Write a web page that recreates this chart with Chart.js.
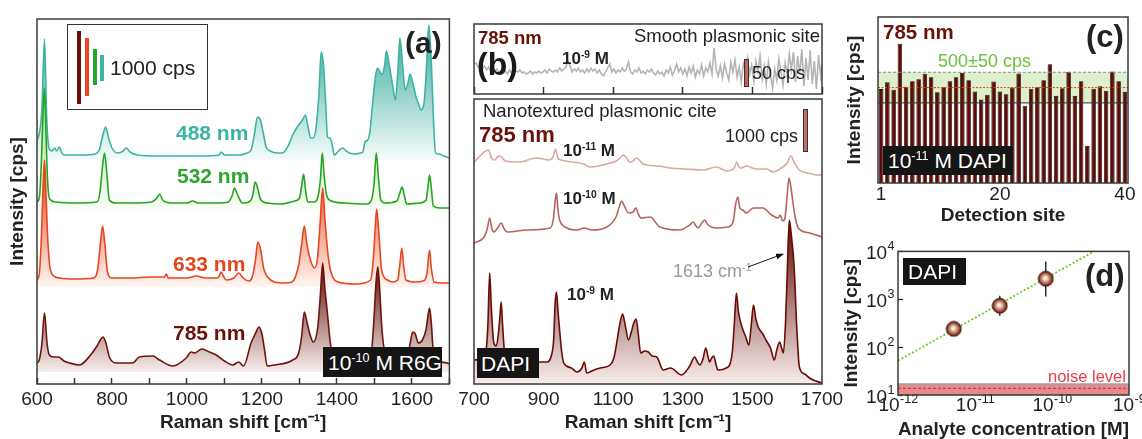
<!DOCTYPE html>
<html><head><meta charset="utf-8">
<script src="https://cdn.jsdelivr.net/npm/chart.js@4.4.1/dist/chart.umd.min.js"></script>
<style>
html,body{margin:0;padding:0;background:#fff;width:1142px;height:439px;overflow:hidden;position:relative;font-family:'Liberation Sans',Arial,Helvetica,sans-serif;color:#222;}
canvas{position:absolute;}
.t{position:absolute;white-space:nowrap;line-height:1;}
.b{font-weight:bold;}
.box{position:absolute;background:#151515;color:#fff;white-space:nowrap;box-sizing:border-box;}
.bar{position:absolute;box-sizing:border-box;}
sup{font-size:0.6em;vertical-align:0;position:relative;top:-0.6em;}
</style></head><body>
<canvas id="cA" width="460" height="439" style="left:0;top:0"></canvas>
<canvas id="cB1" width="385" height="100" style="left:450px;top:0"></canvas>
<canvas id="cB2" width="400" height="344" style="left:450px;top:95px"></canvas>
<canvas id="cC" width="312" height="230" style="left:830px;top:0"></canvas>
<canvas id="cD" width="312" height="220" style="left:830px;top:230px"></canvas>

<!-- panel (a) annotations -->
<div style="position:absolute;left:67px;top:24px;width:141px;height:86px;border:1.5px solid #333;box-sizing:border-box;"></div>
<div class="bar" style="left:77px;top:31px;width:4px;height:73px;background:#6b1005"></div>
<div class="bar" style="left:85px;top:38px;width:4px;height:58px;background:#e8461e"></div>
<div class="bar" style="left:93px;top:49px;width:4px;height:36px;background:#28a828"></div>
<div class="bar" style="left:100px;top:55px;width:4px;height:26px;background:#3ab5a3"></div>
<div class="t" style="left:110px;top:57px;font-size:21px">1000 cps</div>
<div class="t b" style="left:405px;top:28px;font-size:30px;color:#222">(a)</div>
<div class="t b" style="left:176px;top:122px;font-size:21px;color:#3ab4a4">488 nm</div>
<div class="t b" style="left:177px;top:165px;font-size:21px;color:#2ca52a">532 nm</div>
<div class="t b" style="left:173px;top:253px;font-size:21px;color:#e4461c">633 nm</div>
<div class="t b" style="left:173px;top:322px;font-size:21px;color:#6b1208">785 nm</div>
<div class="box" style="left:323px;top:347px;width:119px;height:30px;font-size:21px;line-height:31px;padding-left:5px">10<sup>-10</sup> M R6G</div>

<!-- panel (b) annotations -->
<div class="t b" style="left:478px;top:29px;font-size:18.5px;color:#6b1208">785 nm</div>
<div class="t" style="right:322px;top:27px;font-size:18.5px">Smooth plasmonic site</div>
<div class="t b" style="left:477px;top:48px;font-size:32px;color:#1a1a1a">(b)</div>
<div class="t b" style="left:562px;top:50px;font-size:17px">10<sup>-9</sup> M</div>
<div class="bar" style="left:744px;top:59px;width:5px;height:28px;background:#c0645a;border:1px solid #333"></div>
<div class="t" style="left:752px;top:64px;font-size:18px">50 cps</div>
<div class="t" style="left:483px;top:102px;font-size:18.5px">Nanotextured plasmonic cite</div>
<div class="t b" style="left:479px;top:124px;font-size:22px;color:#6b1208">785 nm</div>
<div class="bar" style="left:803px;top:109px;width:5px;height:43px;background:#c0706a;border:1px solid #333"></div>
<div class="t" style="right:344px;top:127px;font-size:18px">1000 cps</div>
<div class="t b" style="left:563px;top:142px;font-size:17px">10<sup>-11</sup> M</div>
<div class="t b" style="left:563px;top:190px;font-size:17px">10<sup>-10</sup> M</div>
<div class="t b" style="left:567px;top:286px;font-size:17px">10<sup>-9</sup> M</div>
<div class="box" style="left:477px;top:348px;width:62px;height:30px;font-size:21px;line-height:31px;padding-left:4px">DAPI</div>
<div class="t" style="left:673px;top:262px;font-size:18px;color:#999">1613 cm<sup>-1</sup></div>
<svg style="position:absolute;left:0;top:0" width="1142" height="439">
<defs><marker id="ah" markerWidth="8" markerHeight="6" refX="7" refY="3" orient="auto"><path d="M0,0 L8,3 L0,6 z" fill="#111"/></marker></defs>
<line x1="748" y1="267" x2="783" y2="254" stroke="#111" stroke-width="1" marker-end="url(#ah)"/>
</svg>

<!-- panel (c) annotations -->
<div class="t b" style="left:883px;top:22px;font-size:20.5px;color:#6b1208">785 nm</div>
<div class="t b" style="left:1086px;top:21px;font-size:31px;color:#222">(c)</div>
<div class="t" style="left:938px;top:52px;font-size:18px;color:#6dc03c">500±50 cps</div>
<div class="box" style="left:883px;top:146px;width:130px;height:29px;font-size:21px;line-height:30px;padding-left:5px">10<sup>-11</sup> M DAPI</div>

<!-- panel (d) annotations -->
<div class="box" style="left:903px;top:258px;width:63px;height:27px;font-size:21px;line-height:28px;padding-left:5px">DAPI</div>
<div class="t b" style="left:1085px;top:260px;font-size:31px;color:#222">(d)</div>
<div class="t" style="left:1048px;top:368px;font-size:16.5px;color:#e53c48">noise level</div>

<script>
// ---------------- DATA ----------------
// (a) R6G 1e-10 M spectra, offset intensities (stacked)
const shift488 = [600,607,613,620,626,632,640,647,652,660,665,672,690,720,755,767,775,783,791,800,815,830,838,848,870,920,980,1040,1085,1092,1100,1140,1160,1171,1180,1188,1196,1204,1211,1222,1240,1255,1270,1282,1296,1308,1316,1324,1330,1336,1344,1352,1358,1364,1370,1375,1381,1387,1393,1404,1415,1425,1433,1450,1462,1469,1475,1482,1488,1495,1502,1508,1515,1521,1527,1532,1540,1548,1556,1562,1568,1575,1582,1589,1595,1603,1611,1618,1624,1632,1638,1645,1652,1658,1663,1672,1685,1700];
const int488 = [244,252,275,345,265,236,233,236,233,237,232,229,229,229,230,235,248,257,246,236,231,233,236,232,229,228,228,228,229,232,229,229,231,234,250,267,264,250,237,233,231,231,238,249,258,264,269,255,246,246,255,290,332,320,280,247,246,240,229,233,236,233,231,230,231,232,242,244,252,280,305,316,312,310,318,333,318,300,284,310,346,320,294,300,310,300,287,280,274,280,310,359,320,260,231,230,228,226];
const shift532 = [600,606,611,616,620,624,628,634,650,700,760,768,774,780,786,793,810,850,905,920,927,935,960,1000,1015,1030,1080,1110,1120,1127,1134,1148,1165,1175,1182,1189,1197,1215,1250,1287,1300,1306,1311,1316,1322,1340,1350,1356,1361,1366,1372,1380,1420,1480,1492,1499,1505,1511,1517,1528,1560,1567,1574,1580,1586,1620,1638,1643,1647,1652,1657,1675,1700];
const int532 = [182,186,215,270,296,250,205,185,182,181,182,192,215,231,212,184,181,181,182,186,190,184,181,181,183,181,181,182,188,196,190,181,182,188,202,195,184,181,180,183,186,198,210,195,182,182,188,205,231,208,190,184,181,180,184,200,231,205,184,181,183,190,197,188,180,181,184,198,209,195,178,176,176];
const shift633 = [600,606,611,616,620,624,628,634,645,660,700,750,762,769,775,781,788,800,850,900,940,945,950,1000,1025,1050,1080,1086,1091,1097,1105,1125,1138,1150,1165,1175,1183,1189,1196,1205,1215,1233,1260,1280,1298,1306,1313,1320,1327,1340,1348,1355,1362,1368,1376,1384,1403,1450,1490,1497,1502,1506,1512,1518,1524,1535,1549,1562,1568,1573,1578,1584,1610,1630,1640,1647,1652,1659,1680,1700];
const int633 = [104,110,140,195,224,190,150,118,108,106,105,106,115,140,158,140,112,106,106,107,107,110,106,106,108,106,106,108,112,108,104,106,111,106,103,108,125,142,135,115,107,102,101,102,119,140,158,140,127,116,125,160,196,165,130,112,102,100,104,125,155,175,150,117,108,104,102,104,120,136,118,104,102,103,110,134,115,102,101,101];
const shift785 = [600,606,613,620,627,633,645,657,672,687,713,743,760,769,776,783,793,811,855,873,909,927,962,998,1011,1020,1040,1060,1078,1100,1122,1138,1151,1171,1182,1192,1200,1207,1214,1233,1282,1298,1306,1313,1320,1327,1337,1349,1356,1362,1368,1373,1384,1400,1450,1490,1498,1504,1509,1514,1520,1530,1560,1590,1596,1602,1609,1617,1628,1638,1642,1647,1652,1656,1665,1680,1694,1700];
const int785 = [21,24,40,71,40,29,27,27,23,21,19,29,38,44,47,42,27,21,21,27,28,24,18,26,32,31,35,32,29,23,19,22,18,41,50,57,50,34,18,19,24,31,48,72,62,51,42,57,90,121,95,77,37,26,24,27,60,100,117,95,55,30,26,30,42,52,50,41,44,55,66,76,60,37,27,22,21,20];
const baseA = {s488:224, s532:172, s633:97, s785:12};

// (b) smooth plasmonic site, 1e-9 M DAPI (noise only)
const smoothSite = [[700,30],[706,31],[712,27],[718,29],[724,25],[730,28],[736,24],[742,27],[748,22],[754,26],[760,23],[766,25],[772,21],[778,24],[784,22],[790,23],[796,20],[802,24],[808,21],[814,25],[820,23],[826,22],[832,24],[838,21],[844,22],[850,20],[856,21],[862,23],[868,20],[874,22],[880,21],[886,23],[892,21],[898,22],[904,24],[910,21],[916,25],[922,23],[928,22],[934,24],[940,22],[946,26],[952,23],[958,25],[964,27],[970,33],[976,28],[982,22],[988,25],[994,23],[1000,26],[1006,22],[1012,24],[1018,21],[1024,25],[1030,22],[1036,26],[1042,23],[1048,25],[1054,21],[1060,24],[1066,20],[1072,18],[1078,22],[1084,26],[1090,30],[1096,22],[1102,25],[1108,21],[1114,24],[1120,22],[1126,26],[1132,23],[1138,25],[1144,32],[1150,22],[1156,20],[1162,24],[1168,22],[1174,26],[1180,21],[1186,23],[1192,20],[1198,24],[1204,22],[1210,25],[1216,21],[1222,19],[1228,23],[1234,20],[1240,22],[1246,18],[1252,24],[1258,21],[1264,27],[1270,19],[1276,23],[1282,30],[1288,22],[1294,26],[1300,20],[1306,25],[1312,18],[1318,27],[1324,21],[1330,28],[1336,17],[1342,24],[1348,20],[1354,29],[1360,18],[1366,26],[1372,22],[1378,31],[1384,20],[1390,46],[1396,24],[1402,18],[1408,28],[1414,16],[1420,30],[1426,21],[1432,14],[1438,32],[1444,22],[1450,34],[1456,17],[1462,27],[1468,12],[1474,30],[1480,24],[1486,36],[1492,20],[1498,29],[1504,13],[1510,33],[1516,22],[1522,38],[1528,15],[1534,28],[1540,10],[1546,32],[1552,19],[1558,6],[1564,25],[1570,14],[1576,35],[1582,22],[1588,9],[1594,31],[1600,18],[1606,40],[1612,24],[1618,42],[1624,12],[1630,38],[1636,20],[1642,45],[1648,8],[1654,36],[1660,14],[1666,44],[1672,10],[1678,33],[1684,5],[1690,39],[1696,18],[1700,30]];

// (b) nanotextured site, DAPI at three concentrations (offset)
const shiftN11 = [700,742,750,759,767,775,790,830,879,917,928,934,941,950,980,1016,1032,1080,1109,1122,1130,1138,1147,1157,1167,1186,1230,1263,1310,1358,1397,1426,1448,1455,1461,1468,1483,1510,1541,1560,1583,1600,1610,1621,1635,1660,1685,1700];
const intN11 = [222,234,226,224,227,228,223,222,226,224,228,235,226,224,222,220,217,220,223,227,229,226,222,223,226,220,218,216,215,214,217,213,216,222,217,216,218,215,215,212,216,221,228,221,214,211,209,209];
const shiftN10 = [700,729,738,745,751,757,768,778,787,795,853,919,928,933,937,941,946,967,996,1017,1039,1082,1108,1118,1124,1132,1144,1157,1165,1172,1180,1206,1234,1291,1320,1330,1338,1344,1355,1363,1370,1396,1430,1445,1452,1458,1464,1472,1483,1502,1530,1555,1574,1580,1587,1593,1599,1605,1611,1617,1624,1632,1664,1700];
const intN10 = [141,147,155,166,156,152,156,161,155,152,154,156,165,182,191,175,164,156,154,156,154,157,167,178,183,178,171,172,176,170,166,167,157,154,159,162,158,156,161,164,160,156,157,163,180,187,176,174,171,176,176,169,166,169,163,165,185,206,196,180,165,156,151,147];
const shiftN9 = [700,728,734,740,745,750,757,764,770,775,778,782,788,796,805,853,910,922,929,933,937,942,946,952,958,980,996,1010,1017,1024,1045,1063,1091,1102,1110,1118,1127,1135,1144,1152,1160,1166,1172,1179,1190,1201,1212,1225,1244,1265,1296,1320,1334,1342,1349,1358,1366,1372,1377,1383,1389,1395,1401,1425,1442,1448,1454,1460,1471,1480,1490,1497,1503,1510,1518,1530,1539,1552,1563,1570,1578,1584,1589,1595,1600,1606,1613,1620,1627,1635,1650,1664,1682,1700];
const intN9 = [24,26,31,60,111,75,41,38,50,70,82,60,31,26,24,22,22,28,45,80,92,70,54,32,21,16,12,16,22,11,14,16,19,26,41,58,70,58,44,52,62,65,50,31,33,32,28,27,14,16,9,18,27,22,19,25,36,28,22,26,28,20,14,16,31,60,91,72,56,48,39,60,79,65,56,50,44,36,24,34,42,36,31,60,110,164,145,117,60,17,10,6,3,1];

// (c) 1e-11 M DAPI at 40 detection sites
const sites = [1,2,3,4,5,6,7,8,9,10,11,12,13,14,15,16,17,18,19,20,21,22,23,24,25,26,27,28,29,30,31,32,33,34,35,36,37,38,39,40];
const siteIntensity = [495,517,493,643,503,521,527,545,534,485,501,521,534,548,524,487,461,477,520,487,478,500,546,441,496,501,524,576,473,498,551,473,521,310,496,504,490,552,521,486];
const siteTickLabels = [1,20,40];
const bandLow = 450, bandMid = 500, bandHigh = 550;

// (d) calibration
const concM = [5.3e-12, 2.1e-11, 8.3e-11];
const intD = [240, 730, 2680];
const errLo = [175, 455, 1140];
const errHi = [325, 1180, 6150];
const fitConc = [1e-12, 3.5e-10];
const fitInt = [52, 10000];
const noiseLow = 10, noiseMid = 13.8, noiseHigh = 16.7;
const concMinorTicks = [5.2e-12, 3.1e-11, 1.6e-10];
const concMajorTicks = [1e-12, 1e-11, 1e-10, 1e-9];
const intMajorTicks = [10, 100, 1000, 10000];

// ---------------- HELPERS ----------------
const FONT = "'Liberation Sans', Arial, Helvetica, sans-serif";
Chart.defaults.font.family = FONT;
Chart.defaults.color = '#222';
const xy = (xs, ys) => xs.map((x, i) => ({x, y: ys[i]}));
const isPow = v => { const l = Math.log10(v); return Math.abs(l - Math.round(l)) < 1e-6; };

const framePlugin = {id:'frame', afterDraw(chart){
  const {ctx, chartArea:a} = chart; ctx.save(); ctx.strokeStyle='#3a3a3a'; ctx.lineWidth=1.5;
  ctx.strokeRect(a.left, a.top, a.right-a.left, a.bottom-a.top); ctx.restore(); }};

function grad(topColor, botColor, topVal, baseVal){
  return (c) => {
    const ch = c.chart; if (!ch.chartArea) return 'rgba(0,0,0,0)';
    const y = ch.scales.y;
    const g = ch.ctx.createLinearGradient(0, y.getPixelForValue(topVal), 0, y.getPixelForValue(baseVal));
    g.addColorStop(0, topColor); g.addColorStop(1, botColor); return g;
  };
}
function spec(xs, ys, line, topC, botC, base){
  const ds = {data: xy(xs, ys), borderColor: line, borderWidth: 1.6, pointRadius: 0, cubicInterpolationMode:'monotone'};
  if (topC) { ds.fill = {value: base}; ds.backgroundColor = grad(topC, botC, Math.max(...ys), base); }
  else ds.fill = false;
  return ds;
}
const titleFont = {size:19, weight:'bold'};
const baseOpts = (pad) => ({responsive:false, animation:false, layout:{padding:pad},
  plugins:{legend:{display:false}, tooltip:{enabled:false}}});
const hiddenY = (min, max, w, title, tpad) => ({min, max, afterFit:s=>{s.width=w;}, ticks:{display:false},
  grid:{display:false}, border:{display:false},
  title: title ? {display:true, text:title, font:titleFont, color:'#222', padding:{top:tpad, bottom:0}} : {display:false}});

// ---------------- (a) ----------------
new Chart(document.getElementById('cA'), {
  type:'line',
  data:{datasets:[
    spec(shift785, int785, '#6e1409', '#5a0a04', '#f6eeec', baseA.s785),
    spec(shift633, int633, '#e8461e', '#e23c12', '#fff6f2', baseA.s633),
    spec(shift532, int532, '#22a522', '#a9dd8c', '#fbfef8', baseA.s532),
    spec(shift488, int488, '#3cb4a4', '#2fa898', '#f6fcfb', baseA.s488)
  ]},
  options:{...baseOpts({top:19,right:10,left:0,bottom:0}),
    scales:{
      x:{type:'linear', min:600, max:1700, afterFit:s=>{s.height=55;},
        ticks:{stepSize:100, autoSkip:false, maxRotation:0, padding:10.6, font:{size:19}, color:'#222',
          callback:v => (v % 200 === 0 && v < 1700) ? String(v) : ''},
        grid:{drawOnChartArea:false, tickLength:-6, tickColor:'#333', tickWidth:1.5},
        border:{display:false},
        title:{display:true, text:'Raman shift [cm⁻¹]', font:titleFont, color:'#222', padding:{top:0,bottom:4.6}}},
      y: hiddenY(0, 365, 37, 'Intensity [cps]', 6.6)
    }},
  plugins:[framePlugin]
});

// ---------------- (b) top ----------------
new Chart(document.getElementById('cB1'), {
  type:'line',
  data:{datasets:[{data: smoothSite.map(p => ({x:p[0], y:p[1]})), borderColor:'#b4b4b4', borderWidth:1.6, pointRadius:0, tension:0, fill:false}]},
  options:{...baseOpts({top:24,right:13,left:0,bottom:0}),
    scales:{
      x:{type:'linear', min:700, max:1700, afterFit:s=>{s.height=6;},
        ticks:{stepSize:200, autoSkip:false, maxRotation:0, callback:()=>''},
        grid:{drawOnChartArea:false, tickLength:-7, tickColor:'#333', tickWidth:1.5}, border:{display:false}},
      y: hiddenY(0, 70, 24)
    }},
  plugins:[framePlugin]
});

// ---------------- (b) bottom ----------------
new Chart(document.getElementById('cB2'), {
  type:'line',
  data:{datasets:[
    spec(shiftN9, intN9, '#6a0c04', '#5a0804', '#f8eeec', 0),
    spec(shiftN10, intN10, '#b5645c'),
    spec(shiftN11, intN11, '#dba8a0')
  ]},
  options:{...baseOpts({top:4,right:28,left:0,bottom:0}),
    scales:{
      x:{type:'linear', min:700, max:1700, afterFit:s=>{s.height=55;},
        ticks:{stepSize:200, autoSkip:false, maxRotation:0, padding:4.6, font:{size:19}, color:'#222', callback:v => String(v)},
        grid:{drawOnChartArea:false, drawTicks:false}, border:{display:false},
        title:{display:true, text:'Raman shift [cm⁻¹]', font:titleFont, color:'#222', padding:{top:0,bottom:4.6}}},
      y: hiddenY(0, 285, 24)
    }},
  plugins:[framePlugin]
});

// ---------------- (c) ----------------
const bandPlugin = {id:'band',
  beforeDatasetsDraw(chart){
    const {ctx, chartArea:a, scales:{y}} = chart;
    const yt = y.getPixelForValue(bandHigh), yb = y.getPixelForValue(bandLow);
    ctx.save(); ctx.fillStyle = '#ddefcb'; ctx.fillRect(a.left, yt, a.right-a.left, yb-yt); ctx.restore();
  },
  afterDatasetsDraw(chart){
    const {ctx, chartArea:a, scales:{y}} = chart;
    const ln = (v, color, dash, w) => { const p = y.getPixelForValue(v); ctx.beginPath(); ctx.setLineDash(dash);
      ctx.strokeStyle = color; ctx.lineWidth = w; ctx.moveTo(a.left, p); ctx.lineTo(a.right, p); ctx.stroke(); };
    ctx.save();
    ln(bandHigh, '#8c8c8c', [3,2], 1.2);
    ln(bandMid, '#e8401a', [2,1.5], 1);
    ln(bandLow, '#333', [], 1);
    ctx.restore();
  }};
new Chart(document.getElementById('cC'), {
  type:'bar',
  data:{labels: sites, datasets:[{data: siteIntensity, backgroundColor:'#5c0d07', borderColor:'#1e0603', borderWidth:0.8,
    barPercentage:0.72, categoryPercentage:1}]},
  options:{...baseOpts({top:17,right:14,left:0,bottom:0}),
    scales:{
      x:{afterFit:s=>{s.height=47;},
        ticks:{autoSkip:false, maxRotation:0, padding:4.6, font:{size:19}, color:'#222',
          callback:(v, i) => siteTickLabels.includes(sites[i]) ? String(sites[i]) : ''},
        grid:{offset:false, drawOnChartArea:false, tickLength:-4, tickColor:'#333'}, border:{display:false},
        title:{display:true, text:'Detection site', font:titleFont, color:'#222', padding:{top:0,bottom:3.3}}},
      y: hiddenY(189, 730, 48, 'Intensity [cps]', 13.6)
    }},
  plugins:[bandPlugin, framePlugin]
});

// ---------------- (d) ----------------
const sphere = document.createElement('canvas'); sphere.width = 17; sphere.height = 17;
(() => { const g = sphere.getContext('2d');
  const rg = g.createRadialGradient(7.8, 7.8, 0.3, 8.5, 8.5, 8);
  rg.addColorStop(0, '#ffffff'); rg.addColorStop(0.3, '#e2c0b2'); rg.addColorStop(0.7, '#9a4a34'); rg.addColorStop(1, '#5a1a0c');
  g.beginPath(); g.arc(8.5, 8.5, 7.4, 0, Math.PI*2); g.fillStyle = rg; g.fill();
  g.lineWidth = 1; g.strokeStyle = '#2a0804'; g.stroke(); })();

const dPlugin = {id:'dextra',
  beforeDatasetsDraw(chart){
    const {ctx, chartArea:a, scales:{x, y}} = chart;
    ctx.save();
    const yt = y.getPixelForValue(noiseHigh), yb = y.getPixelForValue(noiseLow), ym = y.getPixelForValue(noiseMid);
    ctx.fillStyle = '#e98a8a'; ctx.fillRect(a.left, yt, a.right-a.left, yb-yt);
    ctx.strokeStyle = '#a0a0a0'; ctx.lineWidth = 2; ctx.beginPath(); ctx.moveTo(a.left, yt); ctx.lineTo(a.right, yt); ctx.stroke();
    ctx.strokeStyle = '#d0282c'; ctx.lineWidth = 1; ctx.setLineDash([3,2]); ctx.beginPath(); ctx.moveTo(a.left, ym); ctx.lineTo(a.right, ym); ctx.stroke();
    ctx.setLineDash([]); ctx.strokeStyle = '#111'; ctx.lineWidth = 1.3;
    concM.forEach((c, i) => { const px = x.getPixelForValue(c); ctx.beginPath();
      ctx.moveTo(px, y.getPixelForValue(errLo[i])); ctx.lineTo(px, y.getPixelForValue(errHi[i])); ctx.stroke(); });
    ctx.restore();
  },
  // power-of-ten tick labels with true superscript exponents, placed through the log scales
  afterDraw(chart){
    const {ctx, chartArea:a, scales:{x, y}} = chart;
    ctx.save(); ctx.fillStyle = '#222'; ctx.textBaseline = 'alphabetic'; ctx.textAlign = 'left';
    const draw = (v, px, py, align) => {
      const e = String(Math.round(Math.log10(v)));
      ctx.font = '19px ' + FONT; const bw = ctx.measureText('10').width;
      ctx.font = '12.5px ' + FONT; const ew = ctx.measureText(e).width;
      const left = align === 'center' ? px - (bw + ew) / 2 : px - (bw + ew);
      ctx.font = '19px ' + FONT; ctx.fillText('10', left, py);
      ctx.font = '12.5px ' + FONT; ctx.fillText(e, left + bw + 0.5, py - 8.5);
    };
    concMajorTicks.forEach(v => draw(v, x.getPixelForValue(v), a.bottom + 16, 'center'));
    intMajorTicks.forEach(v => draw(v, a.left - 4, y.getPixelForValue(v) + 7.5, 'right'));
    ctx.restore();
  }};
new Chart(document.getElementById('cD'), {
  type:'scatter',
  data:{datasets:[
    {data: xy(concM, intD), pointStyle: sphere, pointRadius: 8},
    {data: xy(fitConc, fitInt), showLine:true, borderColor:'#6acc1a', borderWidth:1.8, borderDash:[2,2], pointRadius:0, fill:false}
  ]},
  options:{...baseOpts({top:21,right:13,left:0,bottom:0}),
    scales:{
      x:{type:'logarithmic', min:1e-12, max:1e-9, z:1, afterFit:s=>{s.height=55;},
        afterBuildTicks:s=>{ s.ticks = [...concMajorTicks, ...concMinorTicks].sort((p,q)=>p-q).map(v=>({value:v})); },
        ticks:{autoSkip:false, maxRotation:0, padding:10, font:{size:19}, callback:() => ''},
        grid:{drawOnChartArea:false, tickLength:-7, tickWidth:1.5,
          tickColor:c => (c.tick && isPow(c.tick.value)) ? 'rgba(0,0,0,0)' : '#222'},
        border:{display:false},
        title:{display:true, text:'Analyte concentration [M]', font:titleFont, color:'#222', padding:{top:0,bottom:8.5}}},
      y:{type:'logarithmic', min:10, max:10000, afterFit:s=>{s.width=68;},
        afterBuildTicks:s=>{ s.ticks = intMajorTicks.map(v=>({value:v})); },
        ticks:{autoSkip:false, padding:10, font:{size:19}, callback:() => ''},
        grid:{drawOnChartArea:false, tickLength:-5, tickColor:'#222', tickWidth:1.2}, border:{display:false},
        title:{display:true, text:'Intensity [cps]', font:titleFont, color:'#222', padding:{top:10.6, bottom:0}}}
    }},
  plugins:[dPlugin, framePlugin]
});
</script>
</body></html>
